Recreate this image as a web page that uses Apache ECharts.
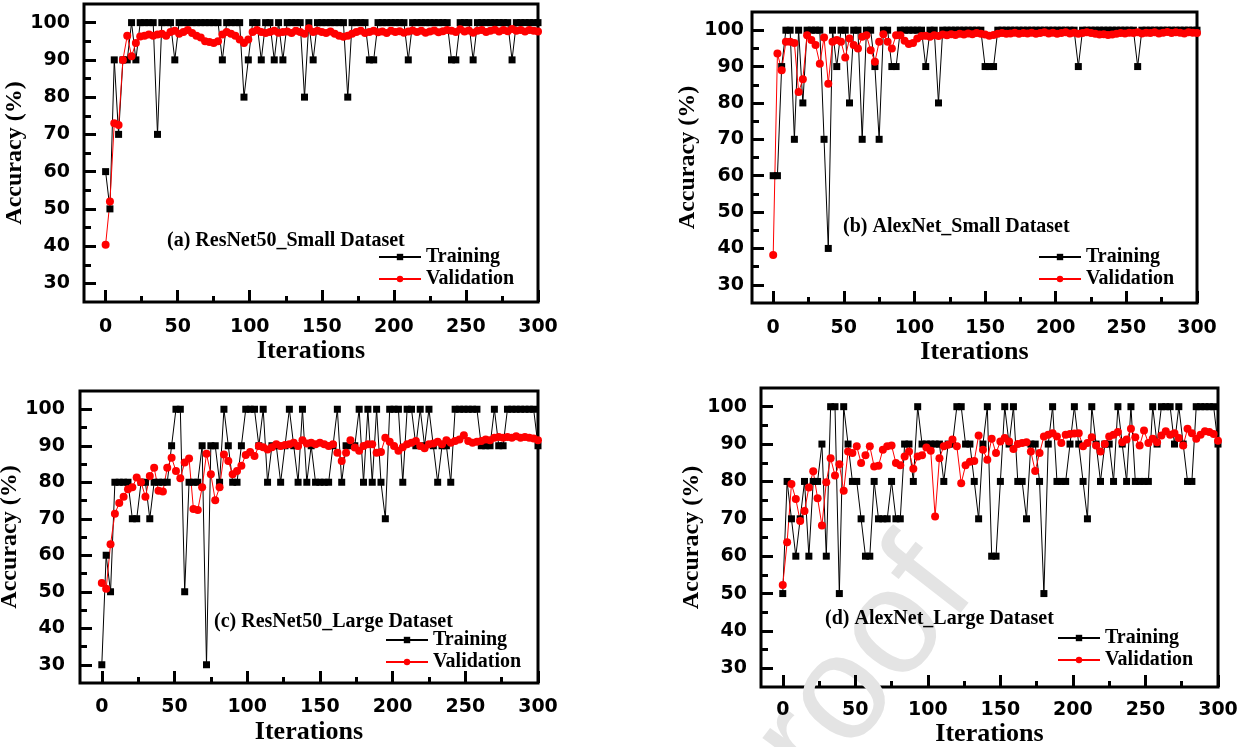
<!DOCTYPE html>
<html>
<head>
<meta charset="utf-8">
<title>Training / validation accuracy</title>
<script src="https://cdn.jsdelivr.net/npm/echarts@6/dist/echarts.min.js"></script>
<style>
  html, body { margin: 0; padding: 0; background: #fff; }
  #chart { width: 1254px; height: 747px; }
</style>
</head>
<body>
<div id="chart"></div>
<script>
/* ---------------- data (one point every 3 iterations) ---------------- */
const STEP = 3;

const TRAIN_A = [60,50,90,70,90,90,100,90,100,100,
  100,100,70,100,100,100,90,100,100,100,
  100,100,100,100,100,100,100,90,100,100,
  100,100,80,90,100,100,90,100,100,90,
  100,90,100,100,100,100,80,100,90,100,
  100,100,100,100,100,100,80,100,100,100,
  100,90,90,100,100,100,100,100,100,100,
  90,100,100,100,100,100,100,100,100,100,
  90,90,100,100,100,90,100,100,100,100,
  100,100,100,100,90,100,100,100,100,100,
  100];
const VAL_A = [40.4,52,73,72.5,90,96.5,91,94.5,96.3,96.5,
  96.8,96.5,96.8,97,96.5,97.5,97.8,97,97.5,98,
  97.2,96.5,96,95,94.8,94.5,95,96.8,97.5,97,
  96.5,95.5,94.5,95.5,97.5,98,97.5,97.2,97.5,97.8,
  97.3,97.5,97.6,97.2,97.8,97.5,97,98.5,97.5,97.8,
  97.5,97.2,97.6,97,96.5,96.2,96.5,97,97.5,97.8,
  97.2,97.5,97.8,97.4,97.6,97.2,97.8,97.5,97.7,97.3,
  97.6,97.9,97.5,97.8,97.3,97.6,97.9,97.4,97.7,98,
  97.8,97.5,98.2,97.6,97.9,97.3,97.8,98,97.5,97.8,
  98.1,97.6,98,97.7,98.3,97.8,98,97.6,98,97.8,
  97.6];

const TRAIN_B = [60,60,90,100,100,70,100,80,100,100,
  100,100,70,40,100,90,100,100,80,100,
  100,70,100,100,90,70,100,100,90,90,
  100,100,100,100,100,100,90,100,100,80,
  100,100,100,100,100,100,100,100,100,100,
  90,90,90,100,100,100,100,100,100,100,
  100,100,100,100,100,100,100,100,100,100,
  100,100,90,100,100,100,100,100,100,100,
  100,100,100,100,100,100,90,100,100,100,
  100,100,100,100,100,100,100,100,100,100,
  100];
const VAL_B = [38.2,93.6,89,96.8,96.8,96.5,83,86.5,98.6,97.3,
  95.9,90.8,98,85.3,96.8,97.3,96.8,92.5,97.7,95.9,
  95,98.2,98.6,94.5,91.3,96.8,98.9,96.8,95,98.6,
  98.6,97.1,96.2,96.5,97.7,98.4,98.5,98.2,98.6,98.4,
  98.8,98.6,98.9,98.7,99,98.8,99.1,98.9,99.2,99,
  98.8,98.5,98.7,99,99.2,99,99.1,99.3,99,99.2,
  99.1,99.3,99,99.2,99.4,99.1,99.3,99,99.2,99.4,
  99.1,99.3,99,99.2,99.4,99.2,99,98.8,98.9,98.7,
  98.8,99,99.2,99.1,99.3,99.2,99.4,99.1,99.3,99.2,
  99.4,99.1,99.3,99.5,99.2,99.4,99.3,99.1,99.4,99.3,
  99.2];

const TRAIN_C = [30,60,50,80,80,80,80,70,70,80,
  80,70,80,80,80,80,90,100,100,50,
  80,80,80,90,30,90,90,80,100,90,
  80,80,90,100,100,100,90,100,80,90,
  90,80,90,100,90,80,100,80,90,80,
  80,80,80,90,100,80,90,90,90,100,
  80,100,80,100,80,70,100,100,100,80,
  100,100,90,100,90,100,90,80,90,90,
  80,100,100,100,100,100,100,90,90,90,
  100,90,90,100,100,100,100,100,100,100,
  90];
const VAL_C = [52.4,50.8,63,71.4,74.3,76,78.1,78.6,81.3,80,
  76,81.7,84,77.7,77.5,84,86.7,83.1,81.1,85.4,
  86.5,72.7,72.4,78.6,87.8,82.2,75.1,78.6,87.6,85.8,
  82.2,83.1,84.5,87.5,88.3,87.2,89.9,89.6,89,89.6,
  90.4,89.9,90.2,90.4,90.8,89.9,91.5,90.6,90.8,90.4,
  90.8,90.4,89.9,90.4,88.1,85.8,88.1,91.5,89.5,88.6,
  89.9,90.4,90.4,88.1,88.3,92.2,91.1,89.9,88.6,89.6,
  90.4,90.8,91.3,89.9,89.3,90.4,90.6,91.1,90.4,91.5,
  90.8,91.3,91.7,92.9,91.3,90.8,91.1,91.3,91.7,91.5,
  92.2,92.4,92.2,92.4,92.2,92.6,92.2,92.4,92.2,92,
  91.5];

const TRAIN_D = [50,80,70,60,70,80,60,80,80,90,
  60,100,100,50,100,90,80,80,70,60,
  60,80,70,70,70,80,70,70,90,90,
  80,100,90,90,90,90,90,80,90,90,
  100,100,90,90,80,70,90,100,60,60,
  80,100,90,100,80,80,70,90,90,80,
  50,90,100,80,80,80,90,100,90,80,
  70,100,90,80,90,90,80,100,90,80,
  100,80,80,80,80,100,90,100,100,100,
  90,100,90,80,80,100,100,100,100,100,
  90];
const VAL_D = [52.3,63.7,79.3,75.3,69.4,72.1,78.4,82.7,75.5,68.2,
  79.8,86.2,81.6,84.6,77.5,88,87.6,89.4,84.9,87,
  89.4,84,84.2,88.5,89.4,89.6,84.9,84.3,86.7,88,
  83.4,86.7,87,89.1,88.2,70.6,86.2,89.4,89.8,91.2,
  89.4,79.5,84.3,85.3,85.5,92.3,88.5,85.8,91.4,87.6,
  90.7,91.6,90.7,88.7,90,90.3,90.5,88,82.8,87.6,
  92,92.5,92.9,92,90.3,92.5,92.7,92.8,92.9,89.4,
  90.3,91.8,89.6,88,90,92,92.5,93.2,90.5,91.2,
  94.1,91.8,89.6,93.6,90.3,91.4,90.5,92.3,93.4,92.5,
  92.9,91.6,89.6,94.1,92.9,91.4,92.5,93.4,93.2,92.7,
  90.9];

const X_MAJOR = [0, 50, 100, 150, 200, 250, 300];
const X_MINOR = [25, 75, 125, 175, 225, 275];
const Y_MAJOR = [30, 40, 50, 60, 70, 80, 90, 100];
const Y_MINOR = [35, 45, 55, 65, 75, 85, 95];

const TITLES = [
  "(a) ResNet50_Small Dataset",
  "(b) AlexNet_Small Dataset",
  "(c) ResNet50_Large Dataset",
  "(d) AlexNet_Large Dataset",
];
const SERIES = [[TRAIN_A, VAL_A], [TRAIN_B, VAL_B], [TRAIN_C, VAL_C], [TRAIN_D, VAL_D]];

/* ---------------- layout ---------------- */
const SANS = '"DejaVu Sans", sans-serif';
const SERIF = '"Liberation Serif", "Times New Roman", serif';

const PANELS = [
  { grid: { left: 84, top: 4, width: 454, height: 298 },   yGap: 54, xGap: 34, yMargin: 14, xMargin: 16,
    title: { left: 167, top: 231 }, legend: { left: 378, top: 247 } },
  { grid: { left: 752, top: 12, width: 445, height: 291 }, yGap: 52, xGap: 29, yMargin: 8,  xMargin: 16,
    title: { left: 843, top: 217 }, legend: { left: 1038, top: 247 } },
  { grid: { left: 80, top: 391, width: 458, height: 292 }, yGap: 49, xGap: 36, yMargin: 15, xMargin: 15,
    title: { left: 214, top: 612 }, legend: { left: 385, top: 630 } },
  { grid: { left: 761, top: 388, width: 457, height: 299 }, yGap: 43, xGap: 26, yMargin: 14, xMargin: 14,
    title: { left: 825, top: 609 }, legend: { left: 1057, top: 628 } },
];

const pts = (vals) => vals.map((v, i) => [i * STEP, v]);

// ticks point into the plot; minor ticks live on a second, label-less axis
const tick = (len, values) => ({
  show: true, inside: true, length: len, customValues: values, lineStyle: { color: "#000", width: 3 },
});
const labelFont = () => ({ color: "#000", fontFamily: SANS, fontWeight: "bold", fontSize: 19 });
const nameFont = (size) => ({ color: "#000", fontFamily: SERIF, fontWeight: "bold", fontSize: size });

const grids = [], xAxes = [], yAxes = [], series = [], titles = [], legends = [];

PANELS.forEach((p, k) => {
  grids.push({ ...p.grid, show: true, borderColor: "#000", borderWidth: 3, outerBoundsMode: "none" });

  xAxes.push({
    type: "value", gridIndex: k, min: -15, max: 300, position: "bottom",
    splitLine: { show: false }, axisLine: { show: false, onZero: false },
    axisTick: tick(12, X_MAJOR),
    axisLabel: { customValues: X_MAJOR, margin: p.xMargin, ...labelFont() },
    name: "Iterations", nameLocation: "middle", nameGap: p.xGap, nameTextStyle: nameFont(26),
  });
  xAxes.push({
    type: "value", gridIndex: k, min: -15, max: 300, position: "bottom",
    splitLine: { show: false }, axisLine: { show: false, onZero: false },
    axisTick: tick(6, X_MINOR), axisLabel: { show: false },
  });

  yAxes.push({
    type: "value", gridIndex: k, min: 25, max: 105, position: "left",
    splitLine: { show: false }, axisLine: { show: false, onZero: false },
    axisTick: tick(12, Y_MAJOR),
    axisLabel: { customValues: Y_MAJOR, margin: p.yMargin, ...labelFont() },
    name: "Accuracy (%)", nameLocation: "middle", nameGap: p.yGap, nameTextStyle: nameFont(24),
  });
  yAxes.push({
    type: "value", gridIndex: k, min: 25, max: 105, position: "left",
    splitLine: { show: false }, axisLine: { show: false, onZero: false },
    axisTick: tick(7, Y_MINOR), axisLabel: { show: false },
  });

  const [train, val] = SERIES[k];
  series.push({
    type: "line", name: "Training", xAxisIndex: 2 * k, yAxisIndex: 2 * k,
    data: pts(train), symbol: "rect", symbolSize: 7, showAllSymbol: true,
    lineStyle: { color: "#000", width: 1 }, itemStyle: { color: "#000" },
  });
  series.push({
    type: "line", name: "Validation", xAxisIndex: 2 * k, yAxisIndex: 2 * k,
    data: pts(val), symbol: "circle", symbolSize: 8, showAllSymbol: true,
    lineStyle: { color: "#ff0000", width: 1 }, itemStyle: { color: "#ff0000" },
  });

  titles.push({ text: TITLES[k], left: p.title.left, top: p.title.top, padding: 0,
    textStyle: nameFont(20) });
  legends.push({ left: p.legend.left, top: p.legend.top, orient: "vertical", padding: 0,
    itemGap: 2, itemWidth: 42, itemHeight: 8, selectedMode: false,
    data: ["Training", "Validation"],
    textStyle: { ...nameFont(20), lineHeight: 20 } });
});

const chart = echarts.init(document.getElementById("chart"), null, { renderer: "canvas" });
chart.setOption({
  animation: false,
  backgroundColor: "#fff",
  title: titles,
  legend: legends,
  grid: grids,
  xAxis: xAxes,
  yAxis: yAxes,
  series: series,
  graphic: [{
    // faint "proof" watermark across panel (d)
    type: "text", x: 840, y: 700, rotation: 52 * Math.PI / 180, silent: true, z: 0,
    style: { text: "proof", fill: "#e4e4e4", font: '150px "Liberation Sans"', align: "center", verticalAlign: "middle" },
  }],
});
</script>
</body>
</html>
